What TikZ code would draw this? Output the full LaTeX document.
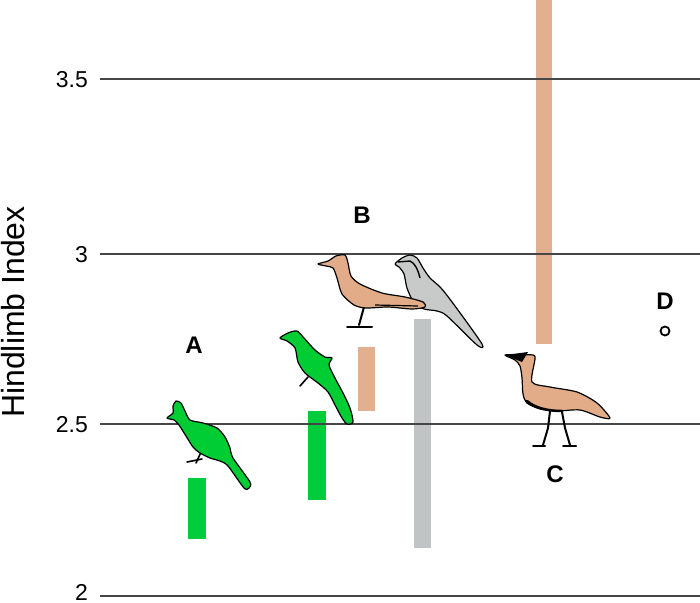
\documentclass[tikz,border=0pt]{standalone}
\usepackage{fontspec}
\setmainfont{Liberation Sans}
\definecolor{gridc}{RGB}{70,70,70}
\definecolor{birdgreen}{RGB}{0,204,51}
\definecolor{bargreen}{RGB}{0,204,60}
\definecolor{tan}{RGB}{226,172,136}
\definecolor{bartan}{RGB}{226,176,142}
\definecolor{greyb}{RGB}{200,202,202}
\definecolor{bargrey}{RGB}{192,196,196}
\tikzset{
  gridline/.style={draw=gridc, line width=1.8pt},
  ticklab/.style={anchor=base east, inner sep=0pt, font=\fontsize{23}{26}\selectfont},
  grouplab/.style={inner sep=0pt, font=\fontsize{24}{28}\selectfont\bfseries},
  bird/.style={draw=black, line width=1.2pt, line join=round},
  leg/.style={draw=black, line width=2pt, line cap=round, line join=round},
}
\begin{document}
\begin{tikzpicture}[x=1pt,y=-1pt]
\useasboundingbox (0,0) rectangle (700,602);
% bars
\fill[bargreen] (188,478) rectangle (206,539);
\fill[bargreen] (308,411) rectangle (326,500);
\fill[bartan] (358,347) rectangle (375,411);
\fill[bargrey] (414,319) rectangle (431,548);
\fill[bartan] (536,0) rectangle (552,344);
% grid lines
\draw[gridline] (100,79) -- (700,79);
\draw[gridline] (100,254) -- (700,254);
\draw[gridline] (100,424) -- (700,424);
\draw[gridline] (100,596) -- (700,596);
% tick labels
\node[ticklab] (t35) at (88,87.5) {3.5};
\node[ticklab] (t3) at (88,262) {3};
\node[ticklab] (t25) at (88,432) {2.5};
\node[ticklab] (t2) at (88,600) {2};
\node[anchor=base, inner sep=0pt, rotate=90, font=\fontsize{32}{36}\selectfont] (ytitle) at (24,312) {Hindlimb Index};
% group labels
\node[grouplab] (A) at (194,345) {A};
\node[grouplab] (B) at (362,215) {B};
\node[grouplab] (C) at (555,474) {C};
\node[grouplab] (D) at (665,301) {D};
\draw[line width=1.8pt] (665,331) circle (4.5);
% bird 1 (green, lower)
\draw[leg, line width=1.6pt] (201,452) -- (196,463);
\draw[leg, line width=1.6pt] (187,462) -- (202,459);
\draw[bird, fill=birdgreen] plot[smooth cycle, tension=0.45] coordinates {
 (167,418) (173,413) (173,406) (176,401) (181,403) (185,411) (190,420) (203,423)
 (217,428) (225,437) (230,448) (233,458) (250,482) (249,488) (244,488) (228,466)
 (220,461) (210,458) (200,453) (193,447) (186,436) (179,425) (174,420)};
% bird 2 (green, upper)
\draw[leg, line width=1.6pt] (308,377) -- (300,386);
\draw[bird, fill=birdgreen] plot[smooth cycle, tension=0.45] coordinates {
 (280,338) (288,333) (297,331) (304,338) (315,350) (325,357) (332,358)
 (329,365) (335,378) (343,393) (350,408) (353,422) (347,424) (342,418)
 (335,405) (328,392) (318,383) (305,373) (298,362) (295,348) (287,341)};
% grey bird
\draw[leg, line width=1.6pt] (416,306) -- (431,308);
\draw[bird, fill=greyb] plot[smooth cycle, tension=0.45] coordinates {
 (395,264) (402,258) (410,255) (417,258) (423,268) (430,278) (441,288) (455,306)
 (482,344) (477,345) (447,316) (437,311) (424,309) (414,303) (407,288) (404,274)
 (399,267)};
\draw[black, line width=1.4pt] (398,262) -- (410,261) .. controls (415,263) and (418,270) .. (420,278);
% roadrunner (tan)
\draw[leg] (364,307) -- (359,325);
\draw[leg] (347,327) -- (372,327);
\draw[bird, fill=tan] plot[smooth cycle, tension=0.45] coordinates {
 (318,264) (328,261) (336,256) (345,255) (348,263) (351,276) (360,284) (382,293)
 (405,297) (423,302) (425,307) (412,309) (388,307) (366,308) (354,305) (342,294)
 (337,278) (333,268) (326,266)};
\draw[black, line width=1.2pt] (375,305) -- (418,306);
% bustard (tan)
\draw[leg] (550,411) -- (548,428) -- (543,445);
\draw[leg] (533,446) -- (545,446);
\draw[leg] (562,412) -- (565,428) -- (570,445);
\draw[leg] (563,446) -- (576,446);
\draw[bird, fill=tan] plot[smooth cycle, tension=0.45] coordinates {
 (505,355) (520,355) (533,355) (535,359) (532,382) (550,387) (577,392) (597,403)
 (610,418) (600,417) (580,410) (557,411) (540,409) (527,403) (523,394) (522,378)
 (520,366) (515,360)};
\fill[black] (505,355) -- (528,352) -- (522,362) -- cycle;
\draw[black, line width=2.5pt, line cap=round] (527,401) .. controls (535,408) and (548,411) .. (562,411);
\end{tikzpicture}
\end{document}
